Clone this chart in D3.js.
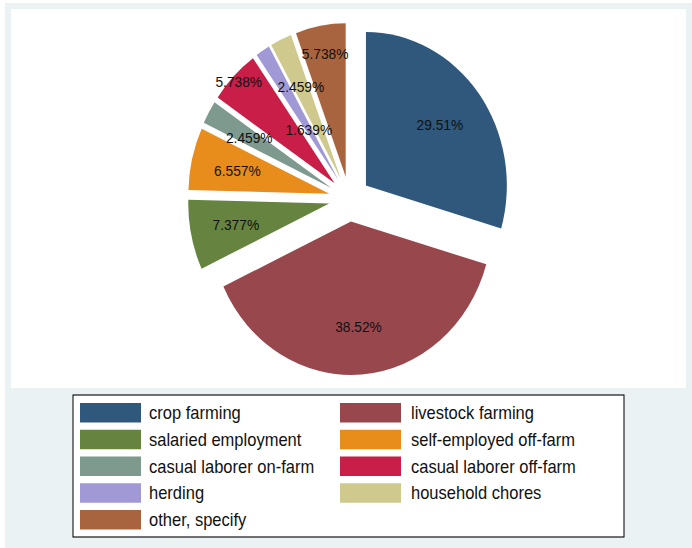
<!DOCTYPE html>
<html>
<head>
<meta charset="utf-8">
<script src="https://cdn.jsdelivr.net/npm/d3@7"></script>
<style>
  body { margin: 0; background: #ffffff; }
  svg text { font-family: "Liberation Sans", Arial, Helvetica, sans-serif; fill: #111; }
</style>
</head>
<body>
<div id="chart"></div>
<script>
// activity shares (n = 122), Stata-style exploded pie

var categories = ["crop farming", "livestock farming", "salaried employment", "self-employed off-farm",
  "casual laborer on-farm", "casual laborer off-farm", "herding", "household chores", "other, specify"];
var percents = [29.51, 38.52, 7.377, 6.557, 2.459, 5.738, 1.639, 2.459, 5.738];
var sliceColors = ["#30587c", "#98474d", "#66843f", "#e88c1b", "#7e998e", "#c81e48", "#a099d6", "#cfc98e", "#a8643f"];
// how far out each percent label sits (fraction of radius)
var labelRadius = [0.656, 0.69, 0.677, 0.67, 0.67, 0.95, 0.39, 0.665, 0.815];

const W = 692, H = 548;
const SX = 0.918;              // picture is a bit squeezed horizontally
const X = function (px) { return px / SX; };

var svg = d3.select("#chart").append("svg")
  .attr("width", W)
  .attr("height", H);

var root = svg.append("g").attr("transform", "scale(" + SX + ",1)");

// graph region + plot region
root.append("rect").attr("x", X(5)).attr("y", 3).attr("width", X(692) - X(5)).attr("height", 545).attr("fill", "#eaf2f3");
root.append("rect").attr("x", X(11)).attr("y", 9).attr("width", X(686) - X(11)).attr("height", 379).attr("fill", "#ffffff");

// pie
const R = 153.5, explode = 22.5;
const cx = X(349.4), cy = 199;

var pie = d3.pie().sort(null).value(function (d) { return d; }).startAngle(0).endAngle(2 * Math.PI);
var arcs = pie(percents);
var arc = d3.arc().innerRadius(0).outerRadius(R);

function offset(d, dist) {
  var a = (d.startAngle + d.endAngle) / 2;
  return [Math.sin(a) * dist, -Math.cos(a) * dist];
}

var gPie = root.append("g").attr("transform", "translate(" + cx + "," + cy + ")");

gPie.selectAll("path")
  .data(arcs)
  .enter()
  .append("path")
  .attr("d", arc)
  .attr("transform", function (d) { var o = offset(d, explode); return "translate(" + o[0] + "," + o[1] + ")"; })
  .attr("fill", function (d, i) { return sliceColors[i]; });

gPie.selectAll("text")
  .data(arcs)
  .enter()
  .append("text")
  .attr("x", function (d, i) { return offset(d, explode + R * labelRadius[i])[0]; })
  .attr("y", function (d, i) { return offset(d, explode + R * labelRadius[i])[1]; })
  .attr("dy", "0.36em")
  .attr("text-anchor", "middle")
  .style("font-size", "15px")
  .text(function (d, i) { return percents[i] + "%"; });

// legend
const legTop = 395, rowStep = 26.75;
root.append("rect")
  .attr("x", X(73)).attr("y", legTop)
  .attr("width", X(624) - X(73)).attr("height", 142)
  .attr("fill", "#ffffff").attr("stroke", "#000").attr("stroke-width", 1.1);

var colSwatch = [X(80), X(340)], colText = [X(149), X(411)];
var leg = root.append("g").selectAll("g")
  .data(categories)
  .enter()
  .append("g")
  .attr("transform", function (d, i) {
    return "translate(0," + (legTop + 8 + Math.floor(i / 2) * rowStep) + ")";
  });

leg.append("rect")
  .attr("x", function (d, i) { return colSwatch[i % 2]; })
  .attr("y", 0)
  .attr("width", X(61) )
  .attr("height", 19.5)
  .attr("fill", function (d, i) { return sliceColors[i]; });

leg.append("text")
  .attr("x", function (d, i) { return colText[i % 2]; })
  .attr("y", 9.75)
  .attr("dy", "0.36em")
  .style("font-size", "18px")
  .text(function (d) { return d; });
</script>
</body>
</html>
